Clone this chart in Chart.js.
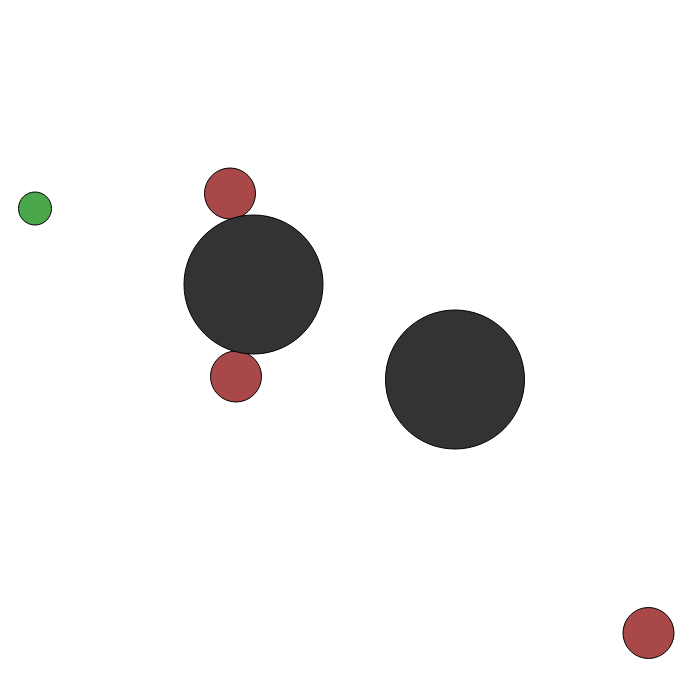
<!DOCTYPE html>
<html>
<head>
<meta charset="utf-8">
<script src="https://cdn.jsdelivr.net/npm/chart.js@4"></script>
<style>
    html, body { margin: 0; padding: 0; background: #fff; }
    canvas { display: block; }
</style>
</head>
<body>
<canvas id="bubbleChart" width="700" height="700"></canvas>
<script>
// values (x, y in plot units, r in px)
const redX = [230, 236, 648.5];
const redY = [506.5, 323.5, 67];
const redR = [25.5, 25.5, 25.5];

const darkX = [253.5, 455];
const darkY = [415.5, 320.5];
const darkR = [69.5, 69.5];

const greenX = [35];
const greenY = [491.5];
const greenR = [16.5];

function toPoints(xs, ys, rs) {
    return xs.map((x, i) => ({x, y: ys[i], r: rs[i]}))
}

document.addEventListener('DOMContentLoaded', function () {
    const ctx = document.getElementById('bubbleChart').getContext('2d');

    new Chart(ctx, {
        type: 'bubble',
        data: {
            datasets: [{
                label: 'Red',
                data: toPoints(redX, redY, redR),
                backgroundColor: '#a84848',
                borderColor: '#000000',
                borderWidth: 1,
                order: 3
            }, {
                label: 'Dark',
                data: toPoints(darkX, darkY, darkR),
                backgroundColor: '#333333',
                borderColor: '#000000',
                borderWidth: 1,
                order: 2
            }, {
                label: 'Green',
                data: toPoints(greenX, greenY, greenR),
                backgroundColor: '#4aa84a',
                borderColor: '#000000',
                borderWidth: 1,
                order: 1
            }]
        },
        options: {
            responsive: false,
            animation: false,
            layout: {padding: 0, autoPadding: false},
            scales: {
                x: {display: false, min: 0, max: 700},
                y: {display: false, min: 0, max: 700}
            },
            plugins: {
                legend: {display: false},
                tooltip: {enabled: false}
            }
        }
    });
});
</script>
</body>
</html>
